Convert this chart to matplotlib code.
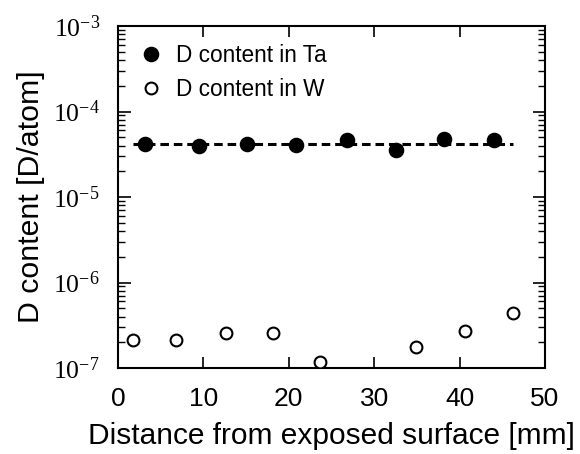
import matplotlib
matplotlib.use("Agg")
import matplotlib.pyplot as plt
import numpy as np
from matplotlib.ticker import LogLocator, FixedLocator, NullFormatter, FuncFormatter

# Data
ta_x = [3.2, 9.5, 15.1, 20.8, 26.8, 32.5, 38.2, 44.0]
ta_y = [4.15e-5, 3.9e-5, 4.15e-5, 4.1e-5, 4.6e-5, 3.5e-5, 4.8e-5, 4.6e-5]
w_x = [1.7, 6.8, 12.6, 18.2, 23.7, 34.9, 40.6, 46.3]
w_y = [2.14e-7, 2.14e-7, 2.59e-7, 2.59e-7, 1.16e-7, 1.74e-7, 2.73e-7, 4.43e-7]
fit_x = [1.7, 46.2]
fit_y = [4.13e-5, 4.13e-5]
x_ticks = [0, 10, 20, 30, 40, 50]

fig = plt.figure(figsize=(5.8, 4.54), dpi=100)
ax = fig.add_axes([118/580, 86/454, 427/580, 342/454])

ax.plot(fit_x, fit_y, color='black', linestyle=(0, (2.8, 1.6)), linewidth=2.2, zorder=2)
ax.plot(ta_x, ta_y, linestyle='none', marker='o', markersize=10.2, markerfacecolor='black',
        markeredgecolor='black', label='D content in Ta', zorder=3)
ax.plot(w_x, w_y, linestyle='none', marker='o', markersize=8.5, markerfacecolor='white',
        markeredgecolor='black', markeredgewidth=1.5, label='D content in W', zorder=3)

ax.set_yscale('log')
ax.set_xlim(0, 50)
ax.set_ylim(1e-7, 1e-3)

ax.xaxis.set_major_locator(FixedLocator(x_ticks))
ax.tick_params(axis='x', which='major', direction='in', top=True, length=8, width=1.2,
               labelsize=19, pad=13.5)
ax.tick_params(axis='y', which='major', direction='in', right=True, length=9, width=1.2,
               labelsize=18.5, pad=13)
ax.tick_params(axis='y', which='minor', direction='in', right=True, length=5, width=1.0)
ax.yaxis.set_major_locator(LogLocator(base=10, numticks=10))
ax.yaxis.set_minor_locator(LogLocator(base=10, subs=np.arange(2, 10), numticks=20))
ax.yaxis.set_minor_formatter(NullFormatter())
ax.yaxis.set_major_formatter(FuncFormatter(lambda v, p: r'$\mathregular{10^{%d}}$' % int(round(np.log10(v)))))

for lab in ax.get_xticklabels():
    lab.set_fontfamily('Liberation Sans')
for lab in ax.get_yticklabels():
    lab.set_fontfamily('Liberation Serif')

for s in ax.spines.values():
    s.set_linewidth(1.5)

ax.set_xlabel('Distance from exposed surface [mm]', fontsize=21.5, family='Liberation Sans', labelpad=8)
ax.set_ylabel('D content [D/atom]', fontsize=21.8, family='Liberation Sans')
ax.yaxis.set_label_coords(-(118 - 45) / 427, 0.5)

leg = ax.legend(loc='upper left', bbox_to_anchor=(0.041, 0.962), frameon=False,
                prop={'family': 'Liberation Sans', 'size': 16.3}, handlelength=1.0,
                handletextpad=0.6, labelspacing=0.5, borderpad=0.2, borderaxespad=0)

fig.savefig('out.png', dpi=100)
